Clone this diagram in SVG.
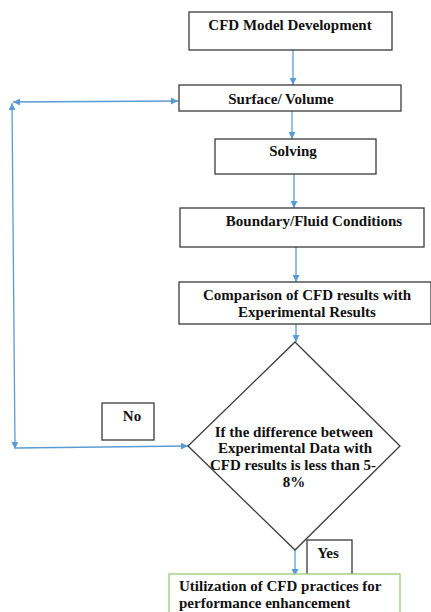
<svg xmlns="http://www.w3.org/2000/svg" width="431" height="612" viewBox="0 0 431 612">
<defs>
<style>
.box{fill:#fff;stroke:#3a3a3a;stroke-width:1.3}
.gbox{fill:#fff;stroke:#9cc97f;stroke-width:1.3}
.t{font-family:"Liberation Serif","Times New Roman",serif;font-size:15px;font-weight:bold;fill:#111}
.c{text-anchor:middle}
.con{stroke:#5b9bd5;stroke-width:1.3;fill:none}
</style>
<marker id="ah" viewBox="0 0 10 10" refX="10" refY="5" markerWidth="7" markerHeight="7" markerUnits="userSpaceOnUse" orient="auto-start-reverse">
<path d="M0,0 L10,5 L0,10 z" fill="#5b9bd5"/>
</marker>
</defs>
<rect width="431" height="612" fill="#fff"/>
<g id="connectors">
<line class="con" x1="293" y1="50" x2="293" y2="85" marker-end="url(#ah)"/>
<line class="con" x1="292" y1="106" x2="292" y2="139" marker-end="url(#ah)"/>
<line class="con" x1="294" y1="174" x2="294" y2="208" marker-end="url(#ah)"/>
<line class="con" x1="296" y1="247" x2="296" y2="282" marker-end="url(#ah)"/>
<line class="con" x1="296" y1="324" x2="296" y2="342" marker-end="url(#ah)"/>
<line class="con" x1="295" y1="550" x2="295" y2="576" marker-end="url(#ah)"/>
<line class="con" x1="13" y1="102" x2="178" y2="101" marker-start="url(#ah)" marker-end="url(#ah)"/>
<line class="con" x1="12" y1="103" x2="15" y2="449" marker-start="url(#ah)" marker-end="url(#ah)"/>
<line class="con" x1="16" y1="448" x2="188" y2="446" marker-end="url(#ah)"/>
</g>
<g id="n1">
<rect class="box" x="189" y="12" width="203" height="38"/>
<text class="t c" x="290" y="30">CFD Model Development</text>
</g>
<g id="n2">
<rect class="box" x="179" y="85" width="222" height="26"/>
<text class="t c" x="281" y="104">Surface/ Volume</text>
</g>
<g id="n3">
<rect class="box" x="215" y="139" width="161" height="35"/>
<text class="t c" x="293" y="156">Solving</text>
</g>
<g id="n4">
<rect class="box" x="180" y="208" width="244" height="39"/>
<text class="t c" x="314" y="226">Boundary/Fluid Conditions</text>
</g>
<g id="n5">
<rect class="box" x="179" y="282" width="252" height="42"/>
<text class="t c" x="307" y="300">Comparison of CFD results with</text>
<text class="t c" x="307" y="317">Experimental Results</text>
</g>
<g id="n6">
<polygon class="box" points="295,342 400,446 295,550 188,446"/>
<text class="t c" x="294" y="437">If the difference between</text>
<text class="t c" x="295" y="453">Experimental Data with</text>
<text class="t c" x="293" y="470">CFD results is less than 5-</text>
<text class="t c" x="294" y="487">8%</text>
</g>
<g id="no">
<rect class="box" x="102" y="403" width="52" height="37"/>
<text class="t c" x="132" y="421">No</text>
</g>
<g id="yes">
<rect class="box" x="307" y="540" width="45" height="36"/>
<text class="t c" x="328" y="558">Yes</text>
</g>
<g id="n7">
<rect class="gbox" x="169" y="574" width="231" height="45"/>
<text class="t" x="179" y="591">Utilization of CFD practices for</text>
<text class="t" x="179" y="608">performance enhancement</text>
</g>
</svg>
